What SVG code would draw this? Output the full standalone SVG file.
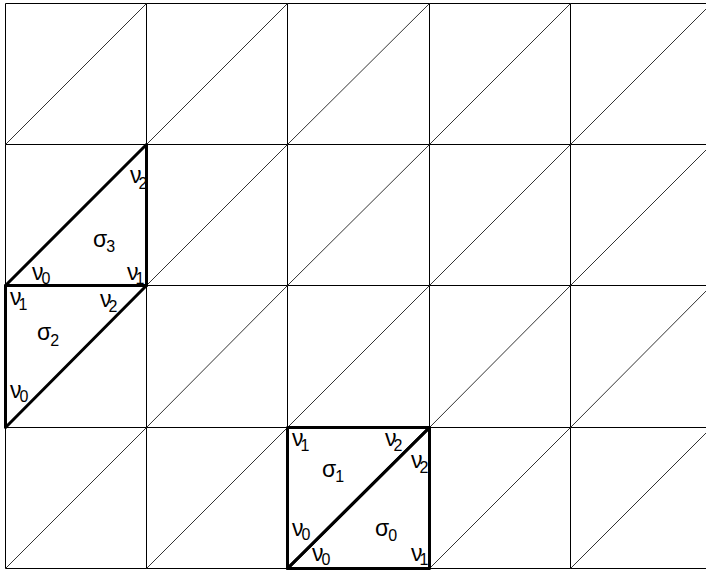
<svg xmlns="http://www.w3.org/2000/svg" width="706" height="570" viewBox="0 0 706 570">
<style>
.g{stroke:#000;stroke-width:1;fill:none}
.d{stroke:#333;stroke-width:1;fill:none}
.t{stroke:#000;stroke-width:3;fill:none;stroke-linecap:round;stroke-linejoin:round}
text{font-family:"Liberation Sans",Arial,sans-serif;font-size:23px;fill:#000}
.s{font-size:16px}
</style>
<rect width="706" height="570" fill="#fff"/>
<g id="grid">
<path class="g" d="M5.5,3.5V568.5M146.5,3.5V568.5M287.5,3.5V568.5M429.5,3.5V568.5M570.5,3.5V568.5"/>
<path class="g" d="M5.5,3.5H706M5.5,144.5H706M5.5,285.5H706M5.5,427.5H706M5.5,568.5H706"/>
<path class="d" d="M5.5,144.5L146.5,3.5M146.5,144.5L287.5,3.5M287.5,144.5L429.5,3.5M429.5,144.5L570.5,3.5M570.5,144.5L711.5,3.5"/>
<path class="d" d="M5.5,285.5L146.5,144.5M146.5,285.5L287.5,144.5M287.5,285.5L429.5,144.5M429.5,285.5L570.5,144.5M570.5,285.5L711.5,144.5"/>
<path class="d" d="M5.5,427.5L146.5,285.5M146.5,427.5L287.5,285.5M287.5,427.5L429.5,285.5M429.5,427.5L570.5,285.5M570.5,427.5L711.5,285.5"/>
<path class="d" d="M5.5,568.5L146.5,427.5M146.5,568.5L287.5,427.5M287.5,568.5L429.5,427.5M429.5,568.5L570.5,427.5M570.5,568.5L711.5,427.5"/>
</g>
<g id="sigma3">
<path class="t" d="M5.5,285.5L146.5,144.5V285.5Z"/>
<text x="130" y="183">ν<tspan class="s" dx="-3" dy="6">2</tspan></text>
<text x="93" y="247">σ<tspan class="s" dx="-1" dy="5">3</tspan></text>
<text x="32" y="280">ν<tspan class="s" dx="-2" dy="4">0</tspan></text>
<text x="127" y="280">ν<tspan class="s" dx="-3" dy="4">1</tspan></text>
</g>
<g id="sigma2">
<path class="t" d="M5.5,427.5V285.5H146.5Z"/>
<text x="10" y="305">ν<tspan class="s" dx="-3" dy="5">1</tspan></text>
<text x="100" y="307">ν<tspan class="s" dx="-3" dy="5">2</tspan></text>
<text x="37" y="340">σ<tspan class="s" dx="-1" dy="6">2</tspan></text>
<text x="10" y="398">ν<tspan class="s" dx="-2" dy="4">0</tspan></text>
</g>
<g id="sigma1">
<path class="t" d="M287.5,568.5V427.5H429.5Z"/>
<text x="292" y="446">ν<tspan class="s" dx="-3" dy="5">1</tspan></text>
<text x="385" y="446">ν<tspan class="s" dx="-3" dy="5">2</tspan></text>
<text x="322" y="477">σ<tspan class="s" dx="-1" dy="5">1</tspan></text>
<text x="292" y="536">ν<tspan class="s" dx="-2" dy="4">0</tspan></text>
</g>
<g id="sigma0">
<path class="t" d="M287.5,568.5L429.5,427.5V568.5Z"/>
<text x="411" y="468">ν<tspan class="s" dx="-3" dy="5">2</tspan></text>
<text x="375" y="536">σ<tspan class="s" dx="-1" dy="5">0</tspan></text>
<text x="312" y="561">ν<tspan class="s" dx="-2" dy="4">0</tspan></text>
<text x="411" y="561">ν<tspan class="s" dx="-3" dy="4">1</tspan></text>
</g>
</svg>
